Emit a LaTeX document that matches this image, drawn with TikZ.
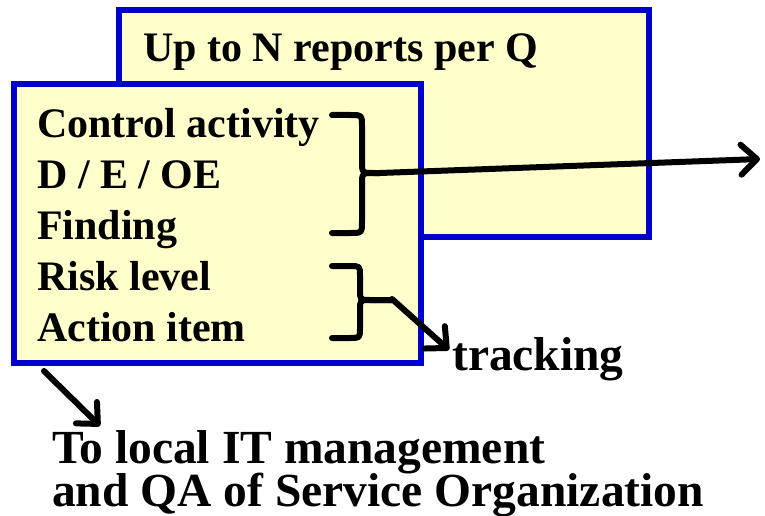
\documentclass[tikz,border=0pt]{standalone}
\usepackage{fontspec}
\setmainfont{Liberation Serif}
\usetikzlibrary{arrows.meta,calc}

\definecolor{boxfill}{RGB}{255,255,204}
\definecolor{boxline}{RGB}{0,0,204}

% curly brace opening to the left, tip pointing right
% #1 left ends x, #2 top y, #3 spine x, #4 tip y, #5 bottom y, #6 tip end x, #7 corner radius
\newcommand\curlybr[7]{%
  \draw[bracestyle] (#1,#2) -- ({#3-#7},#2) .. controls (#3,#2) .. (#3,{#2+#7})
    -- (#3,{#4-#7}) .. controls (#3,#4) .. ({#3+#7},#4) -- (#6,#4);
  \draw[bracestyle] (#6,#4) -- ({#3+#7},#4) .. controls (#3,#4) .. (#3,{#4+#7})
    -- (#3,{#5-#7}) .. controls (#3,#5) .. ({#3-#7},#5) -- (#1,#5);
}

\tikzset{
  sheet/.style={draw=boxline, fill=boxfill, line width=5.5pt, rectangle, inner sep=0pt},
  itemtext/.style={anchor=base west, inner sep=0pt, font=\fontsize{42}{51}\selectfont\bfseries},
  bigtext/.style={anchor=base west, inner sep=0pt, font=\fontsize{47.5}{43}\selectfont\bfseries},
  bracestyle/.style={line width=6pt, line cap=round, line join=round},
  pointer/.style={line width=6pt, line cap=round,
    -{Straight Barb[length=16pt, width=30pt, line width=6pt, round]}},
}

\begin{document}
\begin{tikzpicture}[x=1pt, y=-1pt]
  \useasboundingbox (0,0) rectangle (765,516);

  % the stack of quarterly reports
  \node[sheet, minimum width=530pt, minimum height=227pt] (stack) at (384,123.5) {};
  \node[itemtext] (stacktitle) at (143,62) {Up to N reports per Q};

  % the single report in front
  \node[sheet, minimum width=407pt, minimum height=279pt] (report) at (217.5,223.5) {};
  \node[itemtext] (ctrl) at (37,137) {Control activity};
  \node[itemtext] (deoe) at (37,188) {D / E / OE};
  \node[itemtext] (find) at (37,239) {Finding};
  \node[itemtext] (risk) at (37,290) {Risk level};
  \node[itemtext] (act)  at (37,341) {Action item};

  % braces grouping the fields
  \curlybr{332}{115}{362}{173}{233}{380}{12}
  \coordinate (tipA) at (380,173);
  \curlybr{332}{266}{360}{300}{338}{392}{10}
  \coordinate (tipB) at (392,299);

  % labels
  \node[bigtext] (track) at (452,370) {tracking};
  \node[bigtext, align=left] (mgmt) at (52,506)
    {To local IT management\\[-2pt]and QA of Service Organization};

  % connectors
  \coordinate (outR) at (760,159);
  \coordinate (trackIn) at (449,350);
  \coordinate (mgmtFrom) at (44,371);
  \coordinate (mgmtIn) at (100,426);
  \draw[pointer] (tipA) -- (outR);
  \draw[pointer] (tipB) -- (trackIn);
  \draw[pointer] (mgmtFrom) -- (mgmtIn);
\end{tikzpicture}
\end{document}
